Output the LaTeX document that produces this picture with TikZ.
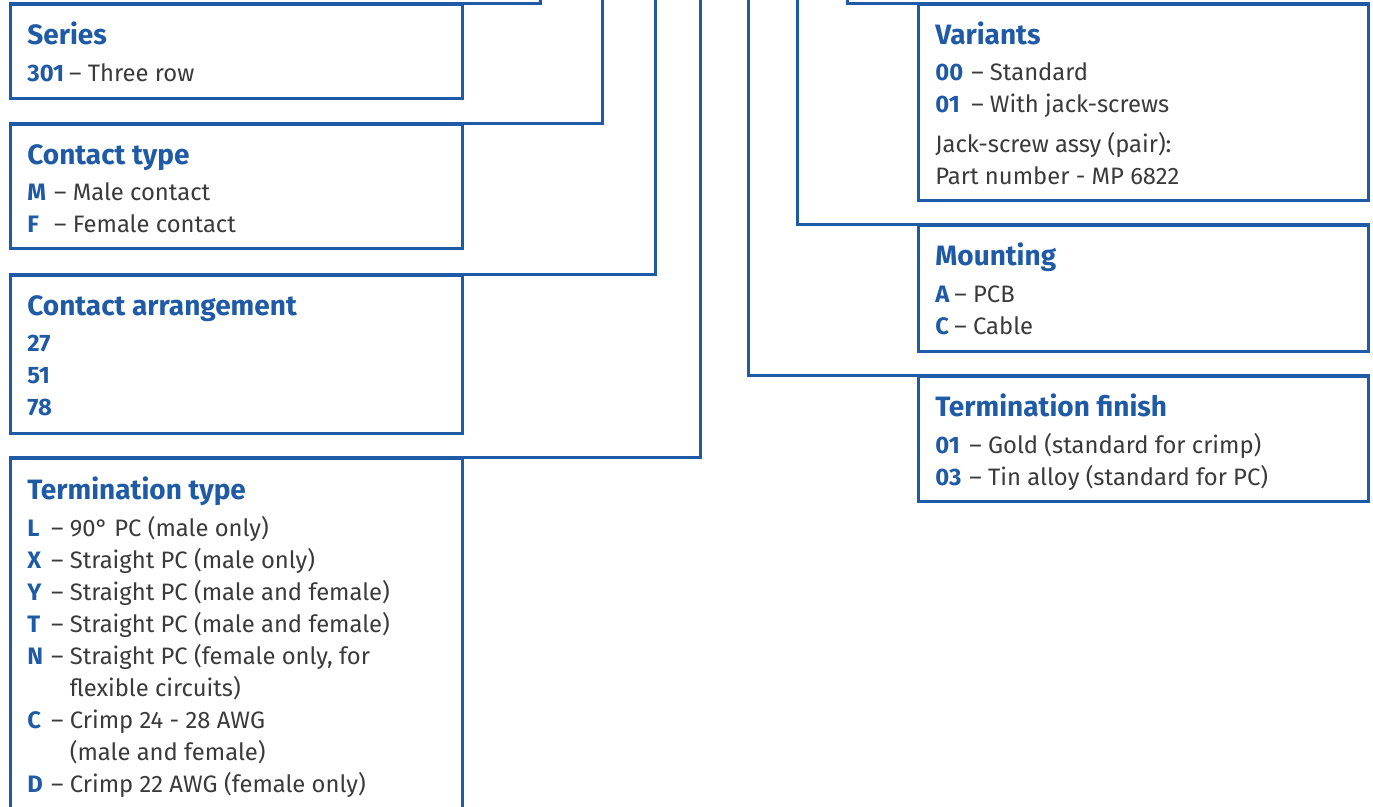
\documentclass[tikz,border=0pt]{standalone}
\usepackage{fontspec}
\setmainfont{Fira Sans}
\usetikzlibrary{fit}
\definecolor{partblue}{HTML}{1F5AA6}
\definecolor{parttext}{HTML}{3A3A3A}
\newcommand{\code}[1]{\textcolor{partblue}{\bfseries #1}}
\tikzset{
  box/.style={draw=partblue, line width=1.5pt, inner sep=0pt},
  link/.style={draw=partblue, line width=1.5pt},
  head/.style={anchor=base west, inner sep=0pt, text=partblue,
    font=\fontsize{14}{16}\selectfont\bfseries},
  items/.style={anchor=base west, inner sep=0pt, text=parttext,
    font=\fontsize{11.9}{16}\selectfont},
}
\begin{document}
\begin{tikzpicture}[x=0.5pt,y=-0.5pt]
\clip (0,0) rectangle (1373,807);

% the boxes
\node[box, fit={(10,5) (462,99)}] (series) {};
\node[box, fit={(10,125) (462,249)}] (contact) {};
\node[box, fit={(10,276) (462,434)}] (arrange) {};
\node[box, fit={(10,459) (462,830)}] (termtype) {};
\node[box, fit={(918,5) (1368,201)}] (variants) {};
\node[box, fit={(918,226) (1368,352)}] (mounting) {};
\node[box, fit={(918,377) (1368,502)}] (finish) {};

% the links from the part number
\coordinate (seriesup) at (540,-10);
\coordinate (contactup) at (602,-10);
\coordinate (arrangeup) at (655,-10);
\coordinate (termtypeup) at (700,-10);
\coordinate (finishup) at (748,-10);
\coordinate (mountingup) at (797,-10);
\coordinate (variantsup) at (847,-10);
\draw[link] (seriesup) |- (series.north west);
\draw[link] (contactup) |- (contact.north west);
\draw[link] (arrangeup) |- (arrange.north west);
\draw[link] (termtypeup) |- (termtype.north west);
\draw[link] (finishup) |- (finish.north east);
\draw[link] (mountingup) |- (mounting.north east);
\draw[link] (variantsup) |- (variants.north east);

% the headings
\node[head] (serieshead) at (27,45) {Series};
\node[head] (contacthead) at (27,165) {Contact type};
\node[head] (arrangehead) at (27,316) {Contact arrangement};
\node[head] (termtypehead) at (27,500) {Termination type};
\node[head] (variantshead) at (935,45) {Variants};
\node[head] (mountinghead) at (935,266) {Mounting};
\node[head] (finishhead) at (935,417) {Termination finish};

% the codes
\node[items] (serieslist) at (27,82) {\begin{tabular}[t]{@{}l@{\hspace{2.5pt}}l@{}}
  \code{301} & – Three row
\end{tabular}};
\node[items] (contactlist) at (27,201) {\begin{tabular}[t]{@{}l@{\hspace{4pt}}l@{}}
  \code{M} & – Male contact\\
  \code{F} & – Female contact
\end{tabular}};
\node[items] (arrangelist) at (27,352) {\begin{tabular}[t]{@{}l@{}}
  \code{27}\\
  \code{51}\\
  \code{78}
\end{tabular}};
\node[items] (termtypelist) at (27,537) {\begin{tabular}[t]{@{}l@{\hspace{4pt}}l@{}}
  \code{L} & – 90° PC (male only)\\
  \code{X} & – Straight PC (male only)\\
  \code{Y} & – Straight PC (male and female)\\
  \code{T} & – Straight PC (male and female)\\
  \code{N} & – Straight PC (female only, for\\
           & \phantom{– }flexible circuits)\\
  \code{C} & – Crimp 24 - 28 AWG\\
           & \phantom{– }(male and female)\\
  \code{D} & – Crimp 22 AWG (female only)
\end{tabular}};
\node[items] (variantslist) at (935,81) {\begin{tabular}[t]{@{}l@{\hspace{4pt}}l@{}}
  \code{00} & – Standard\\
  \code{01} & – With jack-screws\\[4pt]
  \multicolumn{2}{@{}l@{}}{Jack-screw assy (pair):}\\
  \multicolumn{2}{@{}l@{}}{Part number - MP 6822}
\end{tabular}};
\node[items] (mountinglist) at (935,303) {\begin{tabular}[t]{@{}l@{\hspace{2.5pt}}l@{}}
  \code{A} & – PCB\\
  \code{C} & – Cable
\end{tabular}};
\node[items] (finishlist) at (935,454) {\begin{tabular}[t]{@{}l@{\hspace{4pt}}l@{}}
  \code{01} & – Gold (standard for crimp)\\
  \code{03} & – Tin alloy (standard for PC)
\end{tabular}};
\end{tikzpicture}
\end{document}
